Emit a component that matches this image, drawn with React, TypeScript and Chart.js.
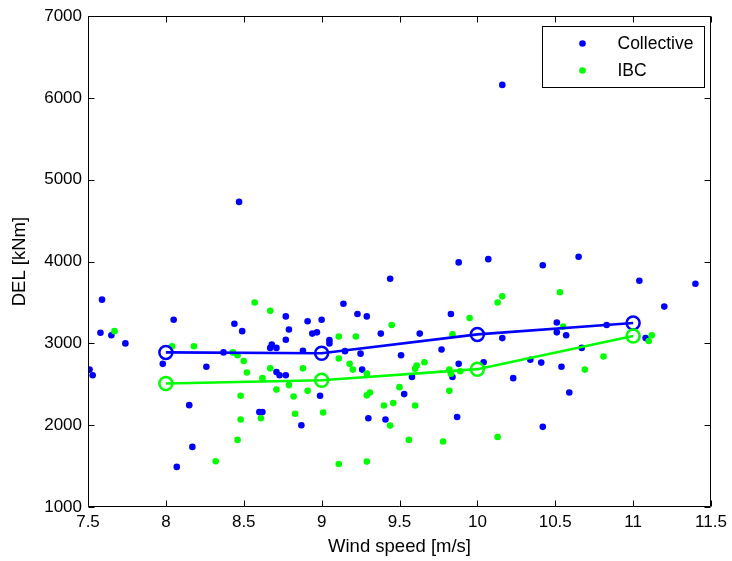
import React, { useEffect, useRef } from "react";
import { Chart, registerables } from "chart.js";

Chart.register(...registerables);

const CANVAS_W = 732;
const CANVAS_H = 561;

// ---- Data ----
const collectiveSpeed = [
  7.51, 7.53, 7.58, 7.59, 7.65, 7.74,
  7.98, 8.05, 8.07, 8.15, 8.17, 8.26, 8.37, 8.44, 8.47, 8.49, 8.6, 8.62,
  8.67, 8.68, 8.71, 8.71, 8.73, 8.77, 8.77, 8.79, 8.77,
  8.87, 8.88, 8.91, 8.94, 8.97, 8.99, 9.0, 9.05, 9.05, 9.14, 9.15, 9.23, 9.25, 9.26, 9.29, 9.3,
  9.38, 9.41, 9.44, 9.51, 9.53, 9.58, 9.63, 9.77, 9.83, 9.84, 9.87, 9.88, 9.88,
  10.04, 10.07, 10.16, 10.16, 10.23, 10.34, 10.41, 10.42, 10.42, 10.51, 10.51, 10.54, 10.57, 10.59,
  10.65, 10.67, 10.83, 11.04, 11.08, 11.2, 11.4,
];
const collectiveDEL = [
  2680, 2610, 3130, 3535, 3100, 3000,
  2750, 3290, 1490, 2245, 1735, 2715, 2890, 3240, 4730, 3150, 2160, 2160,
  2945, 2985, 2945, 2650, 2610, 2610, 3330, 3170, 3045,
  2000, 2910, 3270, 3120, 3135, 2360, 3290, 3040, 3000, 3485, 2905, 3360, 2875, 2680, 3330, 2085,
  3120, 2070, 3790, 2855, 2380, 2590, 3120, 2925, 3360, 2590, 2100, 2750, 3990,
  2770, 4030, 3065, 6160, 2575, 2800, 2765, 3955, 1980, 3255, 3135, 2715, 3100, 2400,
  4060, 2945, 3225, 3765, 3065, 3450, 3730,
];

const ibcSpeed = [
  7.67, 8.04, 8.18, 8.32, 8.43, 8.46, 8.46, 8.48, 8.48, 8.5, 8.52, 8.57, 8.61, 8.62, 8.67, 8.67,
  8.71, 8.79, 8.82, 8.83, 8.88, 8.91, 9.01, 9.11, 9.11, 9.11, 9.18, 9.2, 9.22, 9.29, 9.29, 9.29,
  9.31, 9.4, 9.44, 9.45, 9.46, 9.5, 9.56, 9.6, 9.6, 9.61, 9.66, 9.78, 9.82, 9.82, 9.83, 9.84,
  9.89, 9.95, 10.13, 10.13, 10.16, 10.53, 10.55, 10.69, 10.81, 11.1, 11.12,
];
const ibcDEL = [
  3150, 2965, 2965, 1560, 2890, 2855, 1820, 2360, 2070, 2785, 2645, 3500, 2085, 2575, 3400, 2695,
  2435, 2490, 2350, 2140, 2695, 2420, 2155, 3085, 2815, 1525, 2750, 2680, 3085, 2630, 2365, 1555,
  2400, 2240, 1995, 3225, 2270, 2465, 1820, 2690, 2240, 2730, 2770, 1800, 2680, 2420, 2630, 3110,
  2660, 3310, 3500, 1855, 3575, 3625, 3205, 2680, 2840, 3030, 3100,
];

const binSpeeds = [8, 9, 10, 11];
const collectiveMean = [2890, 2880, 3110, 3250];
const ibcMean = [2510, 2550, 2685, 3090];

const xTicks = [7.5, 8, 8.5, 9, 9.5, 10, 10.5, 11, 11.5];
const yTicks = [1000, 2000, 3000, 4000, 5000, 6000, 7000];

const seriesLabels = ["Collective", "IBC"];
const xTitle = "Wind speed [m/s]";
const yTitle = "DEL [kNm]";

const BLUE = "#0000ff";
const GREEN = "#00ff00";
const FONT = "'Liberation Sans', Arial, Helvetica, sans-serif";

const toPoints = (xs: number[], ys: number[]) => xs.map((x, i) => ({ x, y: ys[i] }));

const boxPlugin = {
  id: "matlabBox",
  afterDraw(chart: any) {
    const { ctx, chartArea: a, scales } = chart;
    const L = Math.round(a.left) + 0.5;
    const R = Math.round(a.right) - 0.5;
    const T = Math.round(a.top) + 0.5;
    const B = Math.round(a.bottom) - 0.5;
    const tl = 6;
    ctx.save();
    ctx.strokeStyle = "#000";
    ctx.lineWidth = 1;
    ctx.beginPath();
    ctx.rect(L, T, R - L, B - T);
    xTicks.forEach((v) => {
      const px = Math.round(scales.x.getPixelForValue(v)) + 0.5;
      ctx.moveTo(px, B);
      ctx.lineTo(px, B - tl);
      ctx.moveTo(px, T);
      ctx.lineTo(px, T + tl);
    });
    yTicks.forEach((v) => {
      const py = Math.round(scales.y.getPixelForValue(v)) + 0.5;
      ctx.moveTo(L, py);
      ctx.lineTo(L + tl, py);
      ctx.moveTo(R, py);
      ctx.lineTo(R - tl, py);
    });
    ctx.stroke();

    // Legend box (top-right, inside the axes)
    const lw = 162;
    const lh = 61;
    const lx = Math.round(a.right - 169) + 0.5;
    const ly = Math.round(a.top + 10) + 0.5;
    ctx.fillStyle = "#fff";
    ctx.fillRect(lx, ly, lw, lh);
    ctx.strokeRect(lx, ly, lw, lh);
    const colors = [BLUE, GREEN];
    ctx.font = `17.5px ${FONT}`;
    ctx.textBaseline = "middle";
    ctx.textAlign = "left";
    seriesLabels.forEach((lab, i) => {
      const cy = ly + 17 + i * 27;
      ctx.fillStyle = colors[i];
      ctx.beginPath();
      ctx.arc(lx + 40, cy, 3.3, 0, Math.PI * 2);
      ctx.fill();
      ctx.fillStyle = "#000";
      ctx.fillText(lab, lx + 75, cy + 1);
    });
    ctx.restore();
  },
};

export default function App() {
  const canvasRef = useRef<HTMLCanvasElement | null>(null);

  useEffect(() => {
    if (!canvasRef.current) return;
    const chart = new Chart(canvasRef.current, {
      type: "scatter",
      data: {
        datasets: [
          {
            label: seriesLabels[0] + " mean",
            data: toPoints(binSpeeds, collectiveMean),
            showLine: true,
            borderColor: BLUE,
            borderWidth: 2.6,
            pointRadius: 6.5,
            pointBorderWidth: 2.5,
            pointBorderColor: BLUE,
            pointBackgroundColor: "rgba(0,0,0,0)",
            order: 2,
          },
          {
            label: seriesLabels[1] + " mean",
            data: toPoints(binSpeeds, ibcMean),
            showLine: true,
            borderColor: GREEN,
            borderWidth: 2.6,
            pointRadius: 6.5,
            pointBorderWidth: 2.5,
            pointBorderColor: GREEN,
            pointBackgroundColor: "rgba(0,0,0,0)",
            order: 1,
          },
          {
            label: seriesLabels[0],
            data: toPoints(collectiveSpeed, collectiveDEL),
            pointRadius: 3.3,
            pointBorderWidth: 0,
            pointBackgroundColor: BLUE,
            borderColor: BLUE,
            order: 4,
          },
          {
            label: seriesLabels[1],
            data: toPoints(ibcSpeed, ibcDEL),
            pointRadius: 3.3,
            pointBorderWidth: 0,
            pointBackgroundColor: GREEN,
            borderColor: GREEN,
            order: 3,
          },
        ],
      },
      options: {
        animation: false,
        responsive: false,
        maintainAspectRatio: false,
        layout: { padding: { top: 15, right: 21, left: 0, bottom: 0 } },
        plugins: {
          legend: { display: false },
          tooltip: { enabled: false },
        },
        scales: {
          x: {
            type: "linear",
            min: 7.5,
            max: 11.5,
            grid: { display: false, drawTicks: false },
            border: { display: false },
            afterBuildTicks: (s: any) => {
              s.ticks = xTicks.map((v) => ({ value: v }));
            },
            afterFit: (s: any) => {
              s.height = 54;
            },
            ticks: {
              color: "#000",
              font: { family: FONT, size: 17 },
              padding: 5,
              maxRotation: 0,
              autoSkip: false,
              callback: (v: any) => String(v),
            },
            title: {
              display: true,
              text: xTitle,
              color: "#000",
              font: { family: FONT, size: 18.5 },
              padding: { top: 0, bottom: 3 },
            },
          },
          y: {
            type: "linear",
            min: 1000,
            max: 7000,
            grid: { display: false, drawTicks: false },
            border: { display: false },
            afterBuildTicks: (s: any) => {
              s.ticks = yTicks.map((v) => ({ value: v }));
            },
            afterFit: (s: any) => {
              s.width = 88;
            },
            ticks: {
              color: "#000",
              font: { family: FONT, size: 17 },
              padding: 6,
              autoSkip: false,
              callback: (v: any) => String(v),
            },
            title: {
              display: true,
              text: yTitle,
              color: "#000",
              font: { family: FONT, size: 18.5 },
              padding: { top: 9, bottom: 0 },
            },
          },
        },
      },
      plugins: [boxPlugin],
    });
    return () => chart.destroy();
  }, []);

  return (
    <div
      style={{
        position: "absolute",
        left: 0,
        top: 0,
        width: CANVAS_W,
        height: CANVAS_H,
        background: "#fff",
      }}
    >
      <canvas ref={canvasRef} width={CANVAS_W} height={CANVAS_H} style={{ display: "block" }} />
    </div>
  );
}
